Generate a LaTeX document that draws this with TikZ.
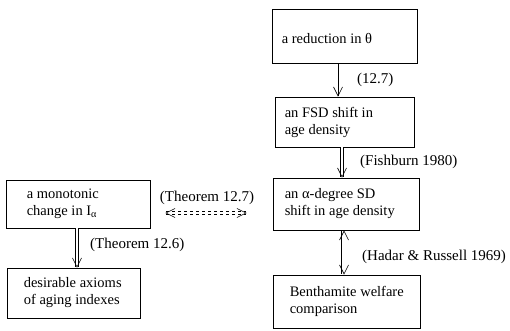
\documentclass[tikz,border=0pt]{standalone}
\usepackage{fontspec}
\setmainfont{Liberation Serif}
\usetikzlibrary{arrows.meta,calc}
\begin{document}
\begin{tikzpicture}[x=1pt,y=-1pt,
  txt/.style={font=\fontsize{14.5}{17}\selectfont},
  box/.style={draw, line width=0.8pt, anchor=center, inner sep=0pt},
  btxt/.style={txt, align=left, anchor=west, inner sep=0pt},
  lbl/.style={font=\fontsize{15}{17}\selectfont, inner sep=0pt, anchor=west},
  vtip/.style={line width=0.6pt, -{Straight Barb[length=9pt,width=9pt,line width=0.6pt]}},
  dbl/.style={double, double distance=2.5pt, line width=0.5pt},
  dtip/.style={-{Straight Barb[length=9pt,width=9pt,line width=0.6pt]}},
  ddtip/.style={{Straight Barb[length=9pt,width=9pt,line width=0.6pt]}-{Straight Barb[length=9pt,width=9pt,line width=0.6pt]}}
]
\useasboundingbox (0,0) rectangle (510,331);
% boxes
\node[box, minimum width=145pt, minimum height=54pt] (b1) at (344.5,36) {};
\node[box, minimum width=139pt, minimum height=50pt] (b2) at (344.5,122) {};
\node[box, minimum width=146pt, minimum height=52pt] (b3) at (346,204) {};
\node[box, minimum width=147pt, minimum height=53pt] (b4) at (346.5,301.5) {};
\node[box, minimum width=144pt, minimum height=48pt] (b5) at (78,204) {};
\node[box, minimum width=133pt, minimum height=50pt] (b6) at (73.5,293) {};
% box texts
\node[btxt] (t1) at ($(b1.west)+(10,3)$) {a reduction in θ};
\node[btxt] (t2) at ($(b2.west)+(10,0)$) {an FSD shift in\\age density};
\node[btxt] (t3) at ($(b3.west)+(12,0)$) {an α-degree SD\\shift in age density};
\node[btxt] (t4) at ($(b4.west)+(17,0)$) {Benthamite welfare\\comparison};
\node[btxt] (t5) at ($(b5.west)+(21,0)$) {a monotonic\\change in I\textsubscript{α}};
\node[btxt] (t6) at ($(b6.west)+(17,0)$) {desirable axioms\\of aging indexes};
% connectors
\coordinate (x1) at (338,0);
\coordinate (x2) at (342,0);
\coordinate (x3) at (344,0);
\coordinate (x4) at (77,0);
\coordinate (y5) at (0,213);
\draw[vtip] (b1.south -| x1) -- (b2.north -| x1);
\draw[dbl, dtip] (b2.south -| x2) -- (b3.north -| x2);
\draw[dbl, ddtip, double distance=5pt] (b3.south -| x3) -- (b4.north -| x3);
\draw[dbl, dtip] (b5.south -| x4) -- (b6.north -| x4);
\draw[dbl, ddtip, dashed] ($(b5.east |- y5)+(15,0)$) -- ($(b3.west |- y5)+(-26,0)$);
% labels
\node[lbl] (l1) at (357,80) {(12.7)};
\node[lbl] (l2) at (360,162) {(Fishburn 1980)};
\node[lbl] (l3) at (362,257) {(Hadar \& Russell 1969)};
\node[lbl] (l4) at (90,245) {(Theorem 12.6)};
\node[font=\fontsize{15}{17}\selectfont, inner sep=0pt] (l5) at (207,198) {(Theorem 12.7)};
\end{tikzpicture}
\end{document}
